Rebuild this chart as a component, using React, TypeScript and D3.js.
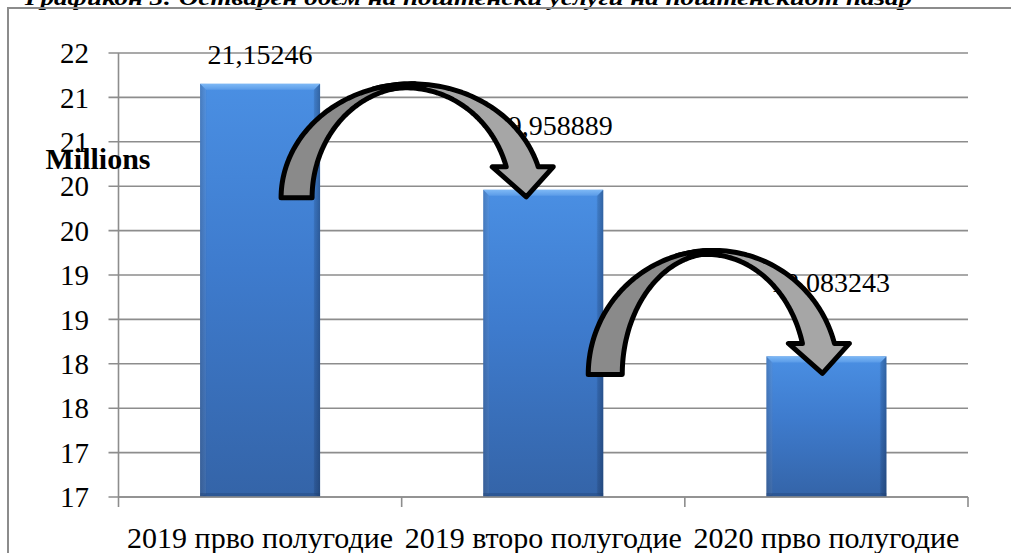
import React from "react";
import * as d3 from "d3";

const TITLE = "Графикон 3: Остварен обем на поштенски услуги на поштенскиот пазар";
const CATEGORIES = ["2019 прво полугодие", "2019 второ полугодие", "2020 прво полугодие"];
const VALUES = [21.15246, 19.958889, 18.083243];
const VALUE_LABELS = ["21,15246", "19,958889", "18,083243"];
const Y_TICKS = [16.5, 17, 17.5, 18, 18.5, 19, 19.5, 20, 20.5, 21, 21.5];
const Y_TICK_LABELS = ["17", "17", "18", "18", "19", "19", "20", "20", "21", "21", "22"];
const Y_UNIT = "Millions";

// layout (pixels)
const W = 1011;
const H = 553;
const M = { left: 118.5, right: 968, top: 53, bottom: 497 };
const LABEL_OFFSETS = [
  { dx: 0, dy: -20 },
  { dx: 10, dy: -55 },
  { dx: 4, dy: -64 },
];
// arrow annotations: from bar i to bar i+1, offsets relative to bar centre / bar top
const ARROWS = [
  { from: 0, to: 1, footOuterDx: 21, footInnerDx: 52, tipDx: -17, tipDy: 7, rise: 114 },
  { from: 1, to: 2, footOuterDx: 45, footInnerDx: 79, tipDx: -4, tipDy: 17, rise: 124 },
];

const FONT = "'Liberation Serif', 'Times New Roman', serif";

function arrowPaths(a: {
  footOuter: number; footInner: number; footY: number; topY: number; tipX: number; tipY: number;
}) {
  const { footOuter, footInner, footY, topY, tipX, tipY } = a;
  const wingY = tipY - 30;
  const leftWing = tipX - 34;
  const rightWing = tipX + 27;
  const shaftInner = tipX - 20;
  const shaftOuter = tipX + 12;
  const ry = footY - topY;
  const s = Math.sqrt(1 - Math.pow((footY - wingY) / ry, 2));
  const rx = (shaftOuter - footOuter) / (1 + s);
  const cx = footOuter + rx;
  const rxD = cx - footInner;
  const ryD = ry - 3;
  const cxL = cx - 6;
  const ryL = ry - 4;
  const sL = Math.sqrt(1 - Math.pow((footY - wingY) / ryL, 2));
  const rxL = (shaftInner - cxL) / sL;

  const line = d3.line<[number, number]>();
  const N = 60;
  const ell = (ccx: number, rrx: number, rry: number, t: number): [number, number] => [
    ccx + rrx * Math.cos(t),
    footY - rry * Math.sin(t),
  ];

  // dark back band
  const dark: [number, number][] = [];
  for (let i = 0; i <= N; i++) {
    const t = Math.PI - (i / N) * (Math.PI / 2 + 0.02);
    dark.push(ell(cx, rx, ry, t));
  }
  for (let i = 0; i <= N; i++) {
    const t = Math.PI / 2 + (i / N) * (Math.PI / 2);
    dark.push(ell(cx, rxD, ryD, t));
  }

  // light front band with head
  const t0 = Math.PI / 2 + 0.3;
  const t1 = Math.asin((footY - wingY) / ry);
  const tL1 = Math.asin((footY - wingY) / ryL);
  const light: [number, number][] = [];
  for (let i = 0; i <= N; i++) {
    const t = t0 - (i / N) * (t0 - t1);
    light.push(ell(cx, rx, ry, t));
  }
  light.push([rightWing, wingY]);
  light.push([tipX, tipY]);
  light.push([leftWing, wingY]);
  for (let i = 0; i <= N; i++) {
    const t = tL1 + (i / N) * (t0 - tL1);
    light.push(ell(cxL, rxL, ryL, t));
  }
  return { dark: line(dark) + "Z", light: line(light) + "Z" };
}

export default function App() {
  const x = d3.scaleBand<string>().domain(CATEGORIES).range([M.left, M.right]).padding(0);
  const y = d3.scaleLinear().domain([16.5, 21.5]).range([M.bottom, M.top]);
  const bw = 120;
  const center = (i: number) => (x(CATEGORIES[i]) as number) + x.bandwidth() / 2;
  const boundaries = [...CATEGORIES.map((c) => x(c) as number), M.right];

  return (
    <svg
      width={W}
      height={H}
      style={{ position: "absolute", left: 0, top: 0, background: "#fff" }}
      fontFamily={FONT}
    >
      <defs>
        <linearGradient id="barV" x1="0" y1="0" x2="0" y2="1">
          <stop offset="0" stopColor="#4a8fe3" />
          <stop offset="0.45" stopColor="#3e7bcd" />
          <stop offset="1" stopColor="#3464a8" />
        </linearGradient>
        <linearGradient id="barH" x1="0" y1="0" x2="1" y2="0">
          <stop offset="0" stopColor="#0a1e40" stopOpacity="0.25" />
          <stop offset="0.06" stopColor="#0a1e40" stopOpacity="0" />
          <stop offset="0.94" stopColor="#0a1e40" stopOpacity="0" />
          <stop offset="1" stopColor="#0a1e40" stopOpacity="0.3" />
        </linearGradient>
        <linearGradient id="bevelTop" x1="0" y1="0" x2="0" y2="1">
          <stop offset="0" stopColor="#7db8f5" />
          <stop offset="1" stopColor="#5a9be8" />
        </linearGradient>
      </defs>

      {/* title (cropped at top) */}
      <text
        x={25}
        y={5}
        fontSize={20}
        fontWeight="bold"
        fontStyle="italic"
        textLength={887}
        lengthAdjust="spacingAndGlyphs"
        fill="#000"
      >
        {TITLE}
      </text>

      {/* frame */}
      <path d={`M8,${H} V8 H${W}`} fill="none" stroke="#8c8c8c" strokeWidth={2} />

      {/* gridlines */}
      {Y_TICKS.map((t, i) => (
        <line key={"g" + i} x1={M.left - 10} x2={M.right} y1={y(t)} y2={y(t)} stroke="#8d8d8d" strokeWidth={1.6} />
      ))}

      {/* bars */}
      {VALUES.map((v, i) => {
        const cx = center(i);
        const x0 = cx - bw / 2;
        const x1 = cx + bw / 2;
        const top = y(v);
        const bot = y(16.5);
        const b = 6;
        return (
          <g key={"b" + i}>
            <rect x={x0} y={top} width={bw} height={bot - top} fill="url(#barV)" />
            <rect x={x0} y={top} width={bw} height={bot - top} fill="url(#barH)" />
            <polygon
              points={`${x0},${top} ${x1},${top} ${x1 - b},${top + b} ${x0 + b},${top + b}`}
              fill="url(#bevelTop)"
            />
            <polygon
              points={`${x0},${top} ${x0 + b},${top + b} ${x0 + b},${bot - 3} ${x0},${bot}`}
              fill="#ffffff"
              opacity={0.07}
            />
            <polygon
              points={`${x1},${top} ${x1 - b},${top + b} ${x1 - b},${bot - 3} ${x1},${bot}`}
              fill="#000"
              opacity={0.08}
            />
            <rect x={x0} y={bot - 4} width={bw} height={4} fill="#1f3f70" opacity={0.35} />
          </g>
        );
      })}

      {/* axes */}
      <line x1={M.left} x2={M.left} y1={M.top} y2={M.bottom} stroke="#8d8d8d" strokeWidth={1.6} />
      <line x1={M.left} x2={M.right} y1={M.bottom} y2={M.bottom} stroke="#8d8d8d" strokeWidth={1.6} />
      {boundaries.map((bx, i) => (
        <line key={"t" + i} x1={bx} x2={bx} y1={M.bottom} y2={M.bottom + 10} stroke="#8d8d8d" strokeWidth={1.6} />
      ))}

      {/* y tick labels */}
      {Y_TICKS.map((t, i) => (
        <text key={"yl" + i} x={89} y={y(t)} dy="0.35em" textAnchor="end" fontSize={29} fill="#000">
          {Y_TICK_LABELS[i]}
        </text>
      ))}

      {/* unit label */}
      <text x={98} y={169} textAnchor="middle" fontSize={30} fontWeight="bold" fill="#000">
        {Y_UNIT}
      </text>

      {/* category labels */}
      {CATEGORIES.map((c, i) => (
        <text key={"c" + i} x={center(i)} y={548} textAnchor="middle" fontSize={30} fill="#000">
          {c}
        </text>
      ))}

      {/* value labels */}
      {VALUES.map((v, i) => (
        <text
          key={"v" + i}
          x={center(i) + LABEL_OFFSETS[i].dx}
          y={y(v) + LABEL_OFFSETS[i].dy}
          textAnchor="middle"
          fontSize={28}
          fill="#000"
        >
          {VALUE_LABELS[i]}
        </text>
      ))}

      {/* arrows */}
      {ARROWS.map((a, i) => {
        const tipY = y(VALUES[a.to]) + a.tipDy;
        const p = arrowPaths({
          footOuter: center(a.from) + a.footOuterDx,
          footInner: center(a.from) + a.footInnerDx,
          footY: tipY + 1,
          topY: tipY + 1 - a.rise,
          tipX: center(a.to) + a.tipDx,
          tipY,
        });
        return (
          <g key={"a" + i} stroke="#000" strokeWidth={5} strokeLinejoin="round">
            <path d={p.light} fill="#a6a6a6" />
            <path d={p.dark} fill="#8a8a8a" />
          </g>
        );
      })}
    </svg>
  );
}
